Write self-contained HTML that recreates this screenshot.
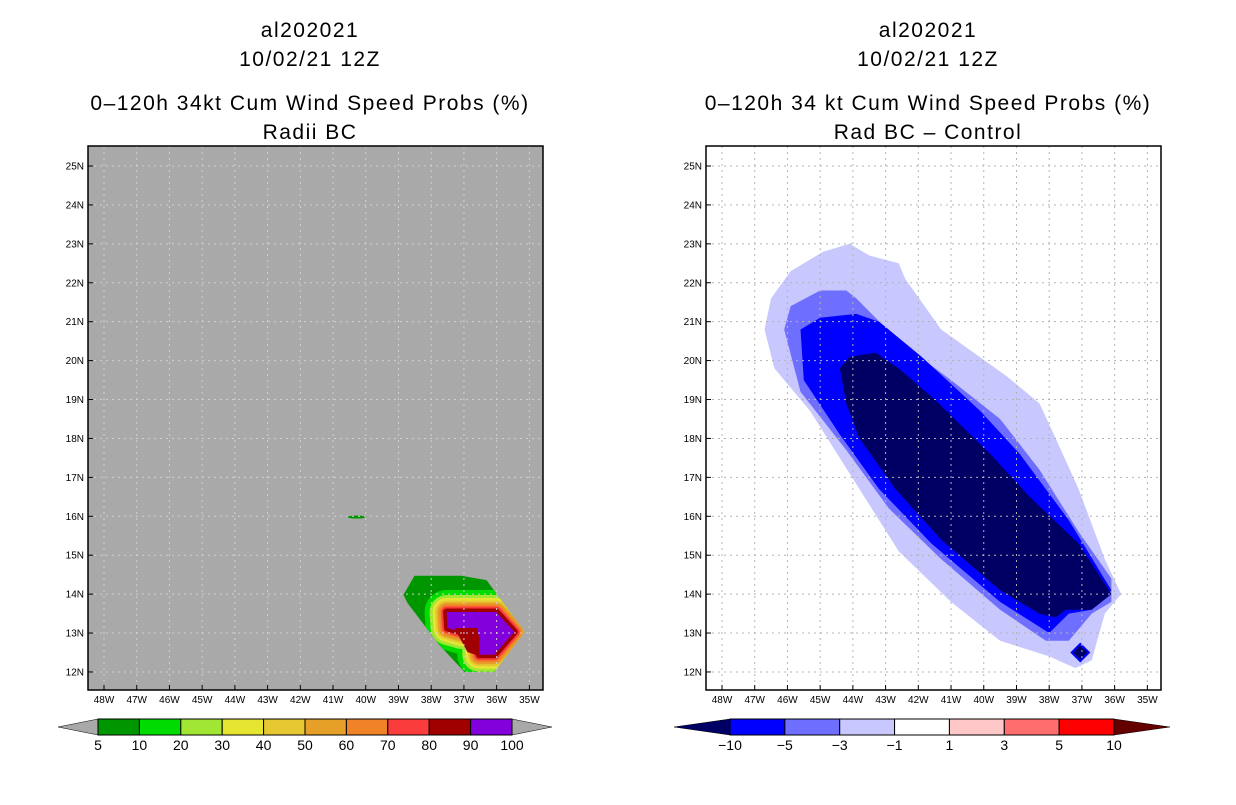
<!DOCTYPE html>
<html><head><meta charset="utf-8"><style>
body{margin:0;background:#fff;width:1236px;height:800px;overflow:hidden}
svg text{font-family:"Liberation Sans",sans-serif}
</style></head><body>
<svg id="s" width="1236" height="800" xmlns="http://www.w3.org/2000/svg">
<g font-size="21" text-anchor="middle" fill="#000" letter-spacing="1.5">
<text x="310" y="37">al202021</text>
<text x="310" y="66">10/02/21 12Z</text>
<text x="310" y="110">0–120h 34kt Cum Wind Speed Probs (%)</text>
<text x="310" y="139">Radii BC</text>
<text x="928" y="37">al202021</text>
<text x="928" y="66">10/02/21 12Z</text>
<text x="928" y="110">0–120h 34 kt Cum Wind Speed Probs (%)</text>
<text x="928" y="139">Rad BC – Control</text>
</g>
<defs><clipPath id="clipL"><polygon id="clipPoly"/></clipPath></defs>
<g id="L"></g><g id="R"></g>
</svg>
<script>
const lats=[25,24,23,22,21,20,19,18,17,16,15,14,13,12];
const lons=[48,47,46,45,44,43,42,41,40,39,38,37,36,35];
const probLevels=['5','10','20','30','40','50','60','70','80','90','100'];
const probColors=['#009600','#00dc00','#a0e632','#e6e632','#e6c832','#e6a028','#f08228','#fa3c3c','#a00000','#8200dc'];
const diffLevels=['-10','-5','-3','-1','1','3','5','10'];
const diffColors=['#000064','#0000ff','#6e6eff','#c8c8ff','#ffffff','#ffc8c8','#ff6e6e','#ff0000','#640000'];
const outer5=[[38.85,13.98],[38.51,14.47],[37.08,14.47],[36.31,14.36],[35.15,13.03],[36.07,12.0],[36.98,12.0],[37.75,12.69],[38.72,13.77]];
const core90=[[37.53,13.54],[36.01,13.54],[35.46,13.03],[36.07,12.44],[36.53,12.44],[36.53,12.95],[37.08,13.03],[37.5,13.13]];
const patch80=[[37.29,13.13],[36.59,13.13],[36.53,12.41],[36.89,12.51]];
const bandWidths=[0,44,34,28,23,19,15,11,7];
const speck=[40.28,15.98];
const cMinus1=[[46.7,20.8],[46.5,21.6],[45.9,22.3],[44.9,22.8],[44.1,23.0],[43.5,22.7],[42.6,22.5],[42.4,22.1],[41.3,20.8],[39.3,19.6],[38.3,18.9],[37.8,18.0],[37.1,16.7],[36.3,14.9],[35.8,14.0],[36.3,13.5],[36.7,12.3],[37.2,12.1],[38.0,12.4],[39.5,12.8],[41.0,13.8],[42.6,15.1],[43.8,16.7],[45.3,18.7],[46.4,19.8]];
const cMinus3=[[46.1,20.8],[45.9,21.4],[45.0,21.8],[44.2,21.8],[43.9,21.6],[42.6,20.5],[41.0,19.5],[39.5,18.5],[38.3,17.2],[37.1,15.6],[36.1,14.4],[36.1,13.8],[36.7,13.5],[37.4,12.8],[38.1,12.8],[39.5,13.6],[41.3,14.9],[42.9,16.2],[44.2,17.7],[45.6,19.2]];
const cMinus5=[[45.6,20.8],[45.0,21.1],[43.9,21.2],[43.2,21.0],[41.9,20.1],[40.1,18.7],[38.9,17.6],[37.4,15.9],[36.1,14.1],[36.7,13.6],[37.4,13.5],[38.0,13.0],[39.5,13.8],[41.6,15.3],[43.2,16.7],[44.4,18.1],[45.5,19.5]];
const cMinus10=[[44.4,19.8],[44.1,20.1],[43.3,20.2],[42.6,19.8],[41.5,19.0],[39.8,17.6],[38.6,16.5],[37.1,15.3],[36.1,14.0],[36.7,13.6],[37.5,13.6],[37.8,13.4],[38.3,13.5],[39.5,14.1],[41.3,15.4],[42.7,16.7],[43.8,18.0],[44.2,18.9]];
const diamond=[37.05,12.5];

const NS='http://www.w3.org/2000/svg';
function mk(tag,attrs,parent){const e=document.createElementNS(NS,tag);for(const k in attrs)e.setAttribute(k,attrs[k]);parent.appendChild(e);return e;}
function panel(x0){return {x:w=>x0+16+(48-w)*32.72, y:n=>166+(25-n)*38.92, x0:x0};}
const PL=panel(88), PR=panel(706);
function pts(P,arr){return arr.map(p=>P.x(p[0]).toFixed(1)+','+P.y(p[1]).toFixed(1)).join(' ');}

function axes(P,g,bg,pref){
  let r=mk('rect',{x:P.x0,y:146,width:455,height:544,fill:bg},g);
  
}
function frame(P,g,gridCol,pref){
  lats.forEach(n=>{
    let l=mk('line',{x1:P.x0,x2:P.x0+455,y1:P.y(n),y2:P.y(n),stroke:gridCol,'stroke-dasharray':'2,4','stroke-width':1},g);
    
    let t=mk('text',{x:P.x0-4,y:P.y(n)+3.5,'font-size':10,'text-anchor':'end'},g);t.textContent=n+'N';
    
    mk('line',{x1:P.x0,x2:P.x0+5,y1:P.y(n),y2:P.y(n),stroke:'#000'},g);
  });
  lons.forEach(w=>{
    let l=mk('line',{x1:P.x(w),x2:P.x(w),y1:146,y2:690,stroke:gridCol,'stroke-dasharray':'2,4','stroke-width':1},g);
    
    let t=mk('text',{x:P.x(w),y:703,'font-size':10,'text-anchor':'middle'},g);t.textContent=w+'W';
    
    mk('line',{x1:P.x(w),x2:P.x(w),y1:690,y2:685,stroke:'#000'},g);
  });
  let f=mk('rect',{x:P.x0,y:146,width:455,height:544,fill:'none',stroke:'#000','stroke-width':1.5},g);
  
}
function colorbar(g,x0,x1,n,cols,labels,pref,first,lowCol,highCol,alen){
  const w=(x1-x0)/n, y=719,h=16;
  let a=mk('polygon',{points:`${x0},${y} ${x0-alen},${y+h/2} ${x0},${y+h}`,fill:lowCol,stroke:'#000','stroke-width':0.5},g);
  
  let b=mk('polygon',{points:`${x1},${y} ${x1+alen},${y+h/2} ${x1},${y+h}`,fill:highCol,stroke:'#000','stroke-width':0.5},g);
  
  for(let i=0;i<n;i++){
    let r=mk('rect',{x:x0+i*w,y:y,width:w,height:h,fill:cols[i+first],stroke:'#000','stroke-width':1},g);
    
  }
  labels.forEach((s,i)=>{
    let t=mk('text',{x:x0+i*w,y:y+h+15,'font-size':14,'text-anchor':'middle'},g);t.textContent=s.replace('-','−');
    
  });
}
// LEFT
const gL=document.getElementById('L');
axes(PL,gL,'#a9a9a9','left');
document.getElementById('clipPoly').setAttribute('points',pts(PL,outer5));
let o=mk('polygon',{points:pts(PL,outer5),fill:probColors[0]},gL);

const cg=mk('g',{'clip-path':'url(#clipL)'},gL);
for(let k=1;k<=8;k++){
  let p=mk('polygon',{points:pts(PL,core90),fill:probColors[k],stroke:probColors[k],'stroke-width':bandWidths[k],'stroke-linejoin':'round'},cg);
  
}
let pp=mk('polygon',{points:pts(PL,core90),fill:probColors[9]},cg);

let pr=mk('polygon',{points:pts(PL,patch80),fill:probColors[8]},cg);

let sp=mk('ellipse',{cx:PL.x(speck[0]),cy:PL.y(speck[1]),rx:9,ry:1.5,fill:probColors[0]},gL);

frame(PL,gL,'#d0d0d0','left');
colorbar(gL,98,512,10,probColors,probLevels,'left',0,'#a9a9a9','#a9a9a9',40);
// RIGHT
const gR=document.getElementById('R');
axes(PR,gR,'#ffffff','right');
[[cMinus1,3,'-1'],[cMinus3,2,'-3'],[cMinus5,1,'-5'],[cMinus10,0,'-10']].forEach(c=>{
  let p=mk('polygon',{points:pts(PR,c[0]),fill:diffColors[c[1]]},gR);
  
});
const dx=PR.x(diamond[0]),dy=PR.y(diamond[1]);
let d1=mk('polygon',{points:`${dx},${dy-14} ${dx+14},${dy} ${dx},${dy+14} ${dx-14},${dy}`,fill:diffColors[3]},gR);

let d2=mk('polygon',{points:`${dx},${dy-10} ${dx+10},${dy} ${dx},${dy+10} ${dx-10},${dy}`,fill:diffColors[1]},gR);

let d3=mk('polygon',{points:`${dx},${dy-7} ${dx+7},${dy} ${dx},${dy+7} ${dx-7},${dy}`,fill:diffColors[0]},gR);

frame(PR,gR,'#b4b4b4','right');
colorbar(gR,730,1114,7,diffColors,diffLevels,'right',1,diffColors[0],diffColors[8],56);
</script>
</body></html>
